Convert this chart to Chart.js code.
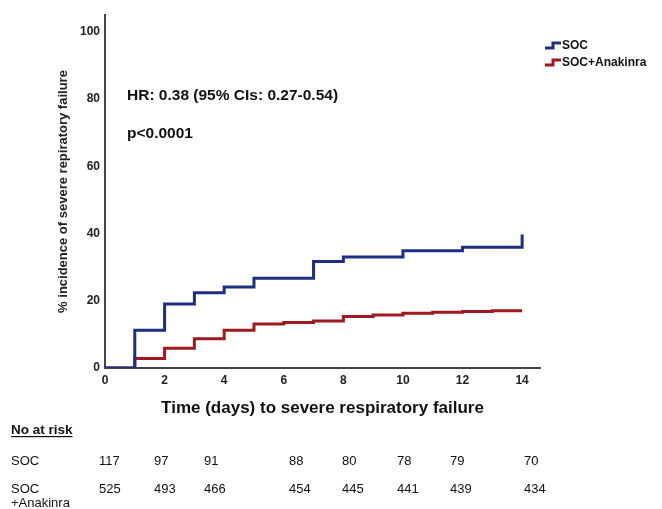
<!DOCTYPE html>
<html lang="en">
<head>
    <meta charset="UTF-8">
    <title>Severe respiratory failure</title>
    <script src="https://cdn.jsdelivr.net/npm/chart.js"></script>
    <style>
        body { margin: 0; background: #fff; }
    </style>
</head>
<body>
    <canvas id="kmChart" width="662" height="509"></canvas>

    <script>
        // time points (days) and cumulative incidence (%)
        const days = [0, 1, 2, 3, 4, 5, 6, 7, 8, 9, 10, 11, 12, 13, 14];
        const socPct = [0, 11.2, 19.0, 22.4, 24.1, 26.7, 26.7, 31.7, 33.0, 33.0, 34.9, 34.9, 35.9, 35.9, 39.7];
        const anakinraPct = [0, 2.8, 5.9, 8.7, 11.2, 13.1, 13.5, 14.0, 15.3, 15.8, 16.3, 16.6, 16.8, 17.0, 17.0];

        // numbers at risk
        const atRiskSOC = [117, 97, 91, 88, 80, 78, 79, 70];
        const atRiskAnakinra = [525, 493, 466, 454, 445, 441, 439, 434];

        const seriesNames = ["SOC", "SOC+Anakinra"];
        const seriesColors = ["#1f2e7e", "#9e1a1e"];

        const FONT = "'Liberation Sans', Arial, Helvetica, sans-serif";

        function toPoints(values) {
            return days.map((d, i) => ({ x: d, y: values[i] }));
        }

        // extra text: HR, p value, legend and the at-risk table
        const extras = {
            id: "extras",
            afterDraw(chart) {
                const c = chart.ctx;
                c.save();
                c.fillStyle = "#111";
                c.textAlign = "left";
                c.textBaseline = "alphabetic";
                c.font = "bold 15.5px " + FONT;
                c.fillText("HR: 0.38 (95% CIs: 0.27-0.54)", 127, 100);
                c.fillText("p<0.0001", 127, 138);

                // legend with little step icons
                const legY = [46, 63];
                seriesNames.forEach((name, i) => {
                    const y = legY[i];
                    c.strokeStyle = seriesColors[i];
                    c.lineWidth = 3;
                    c.beginPath();
                    c.moveTo(545, y + 2);
                    c.lineTo(553, y + 2);
                    c.lineTo(553, y - 3);
                    c.lineTo(561, y - 3);
                    c.stroke();
                    c.fillStyle = "#111";
                    c.font = "bold 12px " + FONT;
                    c.textBaseline = "middle";
                    c.fillText(name, 562, y);
                });

                // number at risk table
                c.fillStyle = "#111";
                c.textBaseline = "middle";
                c.font = "bold 13.5px " + FONT;
                c.fillText("No at risk", 11, 430);
                const w = c.measureText("No at risk").width;
                c.fillRect(11, 436, w, 1.2);

                c.font = "13px " + FONT;
                c.fillText("SOC", 11, 461);
                c.fillText("SOC", 11, 489);
                c.fillText("+Anakinra", 11, 503);
                const colX = [99, 154, 204, 289, 342, 397, 450, 524];
                colX.forEach((x, i) => {
                    c.fillText(String(atRiskSOC[i]), x, 461);
                    c.fillText(String(atRiskAnakinra[i]), x, 489);
                });
                c.restore();
            }
        };

        const ctx = document.getElementById("kmChart").getContext("2d");

        new Chart(ctx, {
            type: "line",
            data: {
                datasets: [
                    {
                        label: seriesNames[0],
                        data: toPoints(socPct),
                        borderColor: seriesColors[0],
                        borderWidth: 3,
                        stepped: true,
                        pointRadius: 0,
                        fill: false
                    },
                    {
                        label: seriesNames[1],
                        data: toPoints(anakinraPct),
                        borderColor: seriesColors[1],
                        borderWidth: 3,
                        stepped: true,
                        pointRadius: 0,
                        fill: false
                    }
                ]
            },
            options: {
                responsive: false,
                animation: false,
                devicePixelRatio: 1,
                layout: { padding: { left: 0, right: 122, top: 15, bottom: 0 } },
                plugins: {
                    legend: { display: false },
                    tooltip: { enabled: false }
                },
                scales: {
                    x: {
                        type: "linear",
                        min: 0,
                        max: 14.6,
                        grid: { display: false, drawTicks: false },
                        border: { display: true, color: "#444", width: 2 },
                        ticks: {
                            stepSize: 2,
                            includeBounds: false,
                            maxRotation: 0,
                            padding: 5,
                            color: "#222",
                            font: { family: FONT, size: 12, weight: "bold" }
                        },
                        title: {
                            display: true,
                            text: "Time (days) to severe respiratory failure",
                            color: "#111",
                            font: { family: FONT, size: 17, weight: "bold" },
                            padding: { top: 0, bottom: 90 }
                        },
                        afterFit(scale) { scale.height = 141; }
                    },
                    y: {
                        min: 0,
                        max: 105,
                        grid: { display: false, drawTicks: false },
                        border: { display: true, color: "#444", width: 2 },
                        ticks: {
                            stepSize: 20,
                            includeBounds: false,
                            padding: 5,
                            color: "#222",
                            font: { family: FONT, size: 12, weight: "bold" }
                        },
                        title: {
                            display: true,
                            text: "% incidence of severe repiratory failure",
                            color: "#222",
                            font: { family: FONT, size: 13, weight: "bold" },
                            padding: { top: 56, bottom: 0 }
                        },
                        afterFit(scale) { scale.width = 105; }
                    }
                }
            },
            plugins: [extras]
        });
    </script>
</body>
</html>
